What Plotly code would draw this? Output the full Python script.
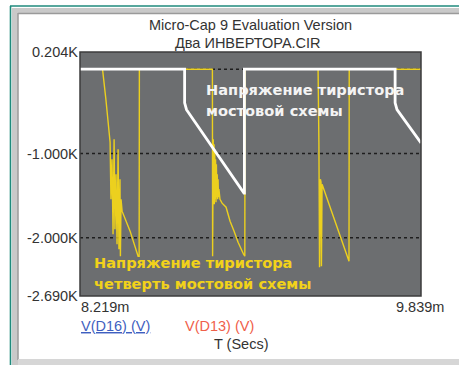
import plotly.graph_objects as go

# Time axis in ms, voltages in volts
T_START, T_END = 8.219, 9.839
V_TOP, V_BOTTOM = 204, -2690

# Bridge thyristor voltage (white trace)
bridge_t = [8.219, 8.716, 8.716, 8.725, 8.998, 9.000, 9.000, 9.716, 9.716, 9.725, 9.839]
bridge_v = [0, 0, -400, -480, -1470, -1470, 0, 0, -400, -480, -875]

# Quarter-bridge thyristor voltage (yellow trace)
quarter_t = [
    8.219, 8.326, 8.342, 8.362, 8.366, 8.371, 8.376, 8.381, 8.385, 8.390,
    8.395, 8.400, 8.404, 8.409, 8.411, 8.414, 8.419, 8.457, 8.495, 8.500,
    8.501,
    8.848, 8.849, 8.852, 8.854, 8.856, 8.857, 8.859, 8.861, 8.863, 8.865,
    8.867, 8.869, 8.871, 8.873, 8.875, 8.877, 8.879, 8.884, 8.894, 8.913,
    8.932, 8.951, 8.970, 8.996, 9.002, 9.003,
    9.350, 9.354, 9.357, 9.361, 9.364, 9.366, 9.369, 9.497, 9.498, 9.839,
]
quarter_v = [
    0, 0, -356, -866, -1542, -1067, -1957, -830, -1898, -1245,
    -2076, -949, -2135, -1305, -2218, -1542, -1684, -1921, -2218, -2218,
    0,
    0, -2218, -830, -1542, -890, -1601, -949, -1542, -1067, -1577,
    -1127, -1518, -1245, -1542, -1305, -1518, -1423, -1542, -1589, -1637,
    -1803, -1921, -2052, -2194, -2218, 0,
    0, -866, -2348, -1305, -1340, -2336, -1364, -2277, 0, 0,
]

grid_levels = [0, -1000, -2000]
y_tick_vals = [204, -1000, -2000, -2690]
y_tick_text = ["0.204K", "-1.000K", "-2.000K", "-2.690K"]
x_tick_text = ["8.219m", "9.839m"]

W, H = 459, 365
L, R, TOP, B = 80, 38, 52, 69
PW, PH = W - L - R, H - TOP - B


def pxx(x):
    return (x - L) / PW


def pxy(y):
    return (TOP + PH - y) / PH


fig = go.Figure()

fig.add_trace(go.Scatter(x=quarter_t, y=quarter_v, mode="lines",
                         line=dict(color="#ecd01e", width=1.4),
                         hoverinfo="skip", showlegend=False))
fig.add_trace(go.Scatter(x=bridge_t, y=bridge_v, mode="lines",
                         line=dict(color="#ffffff", width=2.8),
                         hoverinfo="skip", showlegend=False))

shapes = []
# dotted grid
for g in grid_levels:
    shapes.append(dict(type="line", xref="x", yref="y", x0=T_START, x1=T_END,
                       y0=g, y1=g, line=dict(color="#1e1e1e", width=1.6, dash="dot"),
                       layer="below"))
# plot border
shapes.append(dict(type="rect", xref="paper", yref="paper", x0=0, x1=1, y0=0, y1=1,
                   line=dict(color="#3c3c3c", width=1.5)))
# window frame
frame = "#c9c9c9"
shapes += [
    dict(type="rect", xref="paper", yref="paper", x0=pxx(12), x1=pxx(18),
         y0=pxy(365), y1=pxy(8), fillcolor=frame, line=dict(width=0)),
    dict(type="rect", xref="paper", yref="paper", x0=pxx(12), x1=pxx(459),
         y0=pxy(13), y1=pxy(8), fillcolor=frame, line=dict(width=0)),
    dict(type="line", xref="paper", yref="paper", x0=pxx(18), x1=pxx(18),
         y0=pxy(360), y1=pxy(13), line=dict(color="#9a9a9a", width=1.5)),
    dict(type="line", xref="paper", yref="paper", x0=pxx(18), x1=pxx(459),
         y0=pxy(13.5), y1=pxy(13.5), line=dict(color="#9a9a9a", width=1.5)),
    dict(type="rect", xref="paper", yref="paper", x0=pxx(18), x1=pxx(459),
         y0=pxy(365), y1=pxy(359), fillcolor="#d6d6d6", line=dict(width=0)),
    dict(type="line", xref="paper", yref="paper", x0=pxx(10.5), x1=pxx(10.5),
         y0=pxy(365), y1=pxy(6), line=dict(color="#1f8a7c", width=1.6)),
    dict(type="line", xref="paper", yref="paper", x0=pxx(10), x1=pxx(459),
         y0=pxy(6), y1=pxy(6), line=dict(color="#1f8a7c", width=1.6)),
]

gray_font = dict(family="Liberation Sans, Arial, sans-serif", size=14.5, color="#333333")
ann = []
# titles
ann.append(dict(text="Micro-Cap 9 Evaluation Version", x=pxx(250), y=pxy(25),
                xanchor="center", yanchor="middle", font=gray_font))
ann.append(dict(text="Два ИНВЕРТОРА.CIR", x=pxx(248), y=pxy(43),
                xanchor="center", yanchor="middle", font=gray_font))
# y tick labels
for v, t in zip(y_tick_vals, y_tick_text):
    ann.append(dict(text=t, xref="paper", yref="y", x=pxx(79.5), y=v,
                    xanchor="right", yanchor="middle", font=gray_font))
# x tick labels
ann.append(dict(text=x_tick_text[0], x=pxx(79), y=pxy(307),
                xanchor="left", yanchor="middle", font=gray_font))
ann.append(dict(text=x_tick_text[1], x=pxx(420), y=pxy(307),
                xanchor="center", yanchor="middle", font=gray_font))
# trace names and axis title
ann.append(dict(text="V(D16) (V)", x=pxx(79), y=pxy(326), xanchor="left", yanchor="middle",
                font=dict(family="Liberation Sans, Arial, sans-serif", size=14.5,
                          color="#3f5fc0", lineposition="under")))
ann.append(dict(text="V(D13) (V)", x=pxx(183), y=pxy(326), xanchor="left", yanchor="middle",
                font=dict(family="Liberation Sans, Arial, sans-serif", size=14.5, color="#f0604a")))
ann.append(dict(text="T (Secs)", x=pxx(241), y=pxy(344), xanchor="center", yanchor="middle",
                font=gray_font))
# trace descriptions
white_font = dict(family="DejaVu Sans, sans-serif", size=14.6, color="#f4f4f4", weight="bold")
yellow_font = dict(family="DejaVu Sans, sans-serif", size=14.6, color="#f2d21a", weight="bold")
ann.append(dict(text="Напряжение тиристора", x=pxx(204), y=pxy(89),
                xanchor="left", yanchor="middle", font=white_font))
ann.append(dict(text="мостовой схемы", x=pxx(204), y=pxy(110),
                xanchor="left", yanchor="middle", font=white_font))
ann.append(dict(text="Напряжение тиристора", x=pxx(92), y=pxy(262),
                xanchor="left", yanchor="middle", font=yellow_font))
ann.append(dict(text="четверть мостовой схемы", x=pxx(92), y=pxy(283),
                xanchor="left", yanchor="middle", font=yellow_font))

for a in ann:
    a.setdefault("xref", "paper")
    a.setdefault("yref", "paper")
    a["showarrow"] = False

fig.update_layout(
    width=W, height=H,
    margin=dict(l=L, r=R, t=TOP, b=B),
    paper_bgcolor="#ffffff",
    plot_bgcolor="#6c6e70",
    shapes=shapes,
    annotations=ann,
    xaxis=dict(range=[T_START, T_END], showgrid=False, zeroline=False,
               showticklabels=False, ticks=""),
    yaxis=dict(range=[V_BOTTOM, V_TOP], showgrid=False, zeroline=False,
               showticklabels=False, ticks=""),
)

fig.write_html("out.html")
